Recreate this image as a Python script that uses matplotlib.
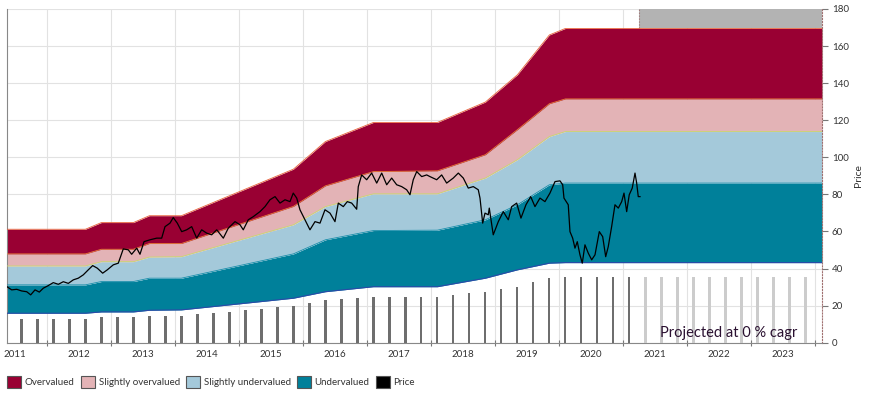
import numpy as np
from matplotlib import pyplot as plt
from matplotlib.patches import Patch

plt.rcParams['font.family'] = ['Lato', 'DejaVu Sans']

# valuation band breakpoints (decimal years) and band edges
band_t = [2011.375, 2012.6, 2012.85, 2013.35, 2013.6, 2014.1, 2015.85, 2016.35,
          2017.1, 2018.1, 2018.85, 2019.35, 2019.85, 2020.1, 2024.11]
band_low = [15.9, 15.9, 16.6, 16.6, 17.5, 17.7, 24.0, 27.5, 30.2, 30.2, 34.8, 39.3, 42.9, 43.2, 43.2]
band_under = [31.2, 31.2, 33.0, 33.0, 34.8, 34.8, 47.9, 55.5, 60.5, 60.7, 66.3, 74.4, 85.2, 86.1, 86.1]
band_slight = [41.4, 41.4, 43.7, 43.7, 46.2, 46.4, 63.6, 73.4, 80.3, 80.3, 88.8, 98.7, 111.2, 113.9, 113.9]
band_over = [47.9, 47.9, 50.4, 50.4, 53.5, 53.5, 73.5, 84.6, 92.3, 92.7, 101.4, 114.9, 128.9, 131.5, 131.5]
band_high = [61.2, 61.2, 64.8, 64.8, 68.5, 68.5, 93.6, 108.5, 118.8, 118.8, 129.8, 144.5, 166.0, 169.5, 169.5]

# quarterly bars (last 11 are projected)
bar_vals = [12.8, 12.8, 12.8, 12.8, 12.8, 13.7, 13.7, 13.7, 14.4, 14.4,
            14.4, 15.3, 15.9, 16.6, 17.5, 18.4, 19.0, 19.7, 21.3, 22.9,
            23.6, 24.0, 24.9, 24.9, 24.9, 24.9, 24.9, 25.7, 26.6, 27.2,
            28.8, 29.9, 32.8, 34.7, 35.3, 35.3, 35.3, 35.3, 35.3,
            35.3, 35.3, 35.3, 35.3, 35.3, 35.3, 35.3, 35.3, 35.3, 35.3, 35.3]
n_actual = 39
bar_t = 2011.6 + 0.25 * np.arange(len(bar_vals))

price_t = [2011.375, 2011.448, 2011.527, 2011.605, 2011.683, 2011.745, 2011.813, 2011.880,
           2011.942, 2012.020, 2012.098, 2012.177, 2012.255, 2012.333, 2012.411, 2012.489,
           2012.567, 2012.645, 2012.714, 2012.786, 2012.870, 2012.942, 2013.036, 2013.114,
           2013.192, 2013.270, 2013.323, 2013.402, 2013.453, 2013.516, 2013.609, 2013.714,
           2013.792, 2013.844, 2013.922, 2013.973, 2014.036, 2014.105, 2014.183, 2014.261,
           2014.339, 2014.417, 2014.495, 2014.573, 2014.652, 2014.755, 2014.833, 2014.938,
           2015.016, 2015.067, 2015.145, 2015.223, 2015.328, 2015.406, 2015.484, 2015.563,
           2015.641, 2015.719, 2015.797, 2015.848, 2015.902, 2015.953, 2016.031, 2016.109,
           2016.188, 2016.266, 2016.344, 2016.422, 2016.500, 2016.552, 2016.630, 2016.692,
           2016.761, 2016.839, 2016.864, 2016.917, 2016.995, 2017.073, 2017.152, 2017.230,
           2017.308, 2017.386, 2017.464, 2017.542, 2017.620, 2017.672, 2017.723, 2017.777,
           2017.855, 2017.933, 2017.984, 2018.089, 2018.167, 2018.245, 2018.348, 2018.427,
           2018.505, 2018.583, 2018.661, 2018.739, 2018.766, 2018.808, 2018.844, 2018.895,
           2018.911, 2018.973, 2019.052, 2019.130, 2019.208, 2019.261, 2019.339, 2019.406,
           2019.484, 2019.558, 2019.625, 2019.703, 2019.781, 2019.859, 2019.938, 2020.016,
           2020.058, 2020.078, 2020.145, 2020.172, 2020.214, 2020.250, 2020.286, 2020.328,
           2020.364, 2020.406, 2020.458, 2020.511, 2020.563, 2020.630, 2020.683, 2020.730,
           2020.770, 2020.823, 2020.875, 2020.927, 2020.980, 2021.016, 2021.058, 2021.098,
           2021.145, 2021.188, 2021.214, 2021.239, 2021.266]
price = [30.2, 28.5, 28.8, 27.9, 27.5, 25.8, 28.5, 27.3,
         29.4, 30.8, 32.4, 31.5, 32.9, 32.0, 33.9, 34.8,
         36.6, 39.3, 41.6, 40.2, 37.5, 39.3, 42.0, 42.9,
         50.6, 50.1, 47.7, 51.0, 47.7, 54.5, 55.5, 56.4,
         56.4, 62.6, 64.5, 67.5, 64.5, 59.9, 60.9, 62.6,
         56.4, 60.9, 59.1, 58.2, 60.9, 56.4, 61.8, 65.3,
         63.6, 60.9, 66.3, 68.0, 70.7, 73.4, 77.1, 78.8,
         75.3, 77.1, 76.1, 80.7, 78.0, 71.7, 66.3, 60.9,
         65.3, 64.5, 71.7, 69.9, 65.3, 75.3, 73.4, 76.1,
         75.3, 72.0, 84.2, 90.5, 87.9, 91.5, 86.1, 91.5,
         85.2, 88.8, 85.2, 84.2, 82.5, 79.8, 87.9, 92.3,
         89.6, 90.5, 89.6, 87.9, 90.5, 86.1, 88.8, 91.5,
         88.8, 83.4, 84.2, 82.5, 78.0, 64.5, 69.9, 69.0,
         72.6, 58.2, 65.3, 70.7, 66.3, 73.4, 75.3, 67.2,
         74.4, 78.8, 73.4, 78.0, 76.1, 80.7, 86.9, 87.3,
         85.2, 78.0, 74.4, 59.9, 56.4, 51.0, 54.5, 47.4,
         42.9, 52.8, 48.3, 44.7, 47.4, 59.9, 57.2, 46.4,
         51.8, 62.6, 74.4, 72.6, 76.1, 80.7, 70.7, 79.8,
         83.4, 91.5, 86.1, 78.8, 78.8]

years = list(range(2011, 2024))
proj_start = 2021.25

c_over = '#990033'
c_sover = '#e3b3b6'
c_sunder = '#a4c9da'
c_under = '#00809a'

fig = plt.figure(figsize=(8.69, 3.97), dpi=100)
ax = fig.add_axes([7 / 869, 1 - 342.7 / 397, 815 / 869, 333.7 / 397])

ax.fill_between(band_t, band_low, band_under, color=c_under, lw=0, zorder=2)
ax.fill_between(band_t, band_under, band_slight, color=c_sunder, lw=0, zorder=2)
ax.fill_between(band_t, band_slight, band_over, color=c_sover, lw=0, zorder=2)
ax.fill_between(band_t, band_over, band_high, color=c_over, lw=0, zorder=2)
ax.plot(band_t, band_high, color='#e8603a', lw=0.6, zorder=3)
ax.plot(band_t, band_over, color='#e8803a', lw=0.6, zorder=3)
ax.plot(band_t, band_slight, color='#c8d870', lw=0.6, zorder=3)
ax.plot(band_t, band_under, color='#1a8fab', lw=0.6, zorder=3)
ax.plot(band_t, band_low, color='#2b4aa8', lw=0.8, zorder=3)

ax.bar(bar_t[:n_actual], bar_vals[:n_actual], width=0.035, color='#6e6e6e', zorder=3)
ax.bar(bar_t[n_actual:], bar_vals[n_actual:], width=0.045, color='#cccccc', zorder=3)

ax.plot(price_t, price, color='black', lw=0.9, zorder=4)

ax.axvspan(proj_start, 2024.11, ymin=170 / 180, ymax=1, color='#b3b3b3', lw=0, zorder=1)
ax.axvline(proj_start, ymin=170 / 180, ymax=1, color='#a07070', lw=0.8, ls=':', zorder=2)

ax.text(2023.72, 1.5, 'Projected at 0 % cagr', ha='right', va='bottom',
        fontsize=10.5, color='#2a1030', zorder=5)

ax.set_xlim(2011.375, 2024.11)
ax.set_ylim(0, 180)
ax.set_xticks(list(range(2012, 2025)))
ax.set_xticklabels([])
ax.set_xticks([y + 0.5 for y in years], minor=True)
ax.set_xticklabels([str(y) for y in years], minor=True)
ax.tick_params(axis='x', which='major', length=4, color='#777777', direction='inout')
ax.tick_params(axis='x', which='minor', length=0, pad=5, labelsize=7, labelcolor='#333333')
ax.set_yticks(range(0, 181, 20))
ax.yaxis.tick_right()
ax.yaxis.set_label_position('right')
ax.tick_params(axis='y', length=4, color='#777777', labelsize=7, labelcolor='#333333', pad=3)
ax.set_ylabel('Price', fontsize=7.5, color='#333333', labelpad=4)
ax.grid(True, which='major', color='#e2e2e2', lw=0.8, zorder=0)
ax.set_axisbelow(True)

ax.spines['top'].set_visible(False)
ax.spines['left'].set_color('#888888')
ax.spines['bottom'].set_color('#888888')
ax.spines['right'].set_color('#a07070')
ax.spines['right'].set_linestyle(':')

handles = [Patch(facecolor=c, edgecolor='#555555', lw=0.8)
           for c in [c_over, c_sover, c_sunder, c_under, 'black']]
labels = ['Overvalued', 'Slightly overvalued', 'Slightly undervalued', 'Undervalued', 'Price']
fig.legend(handles, labels, loc='center left', bbox_to_anchor=(7 / 869, 1 - 382 / 397),
           ncol=5, frameon=False, fontsize=7, handlelength=1.45, handleheight=1.45,
           handletextpad=0.4, columnspacing=0.6, borderpad=0, borderaxespad=0,
           labelcolor='#333333')

fig.savefig('out.png', dpi=100)
